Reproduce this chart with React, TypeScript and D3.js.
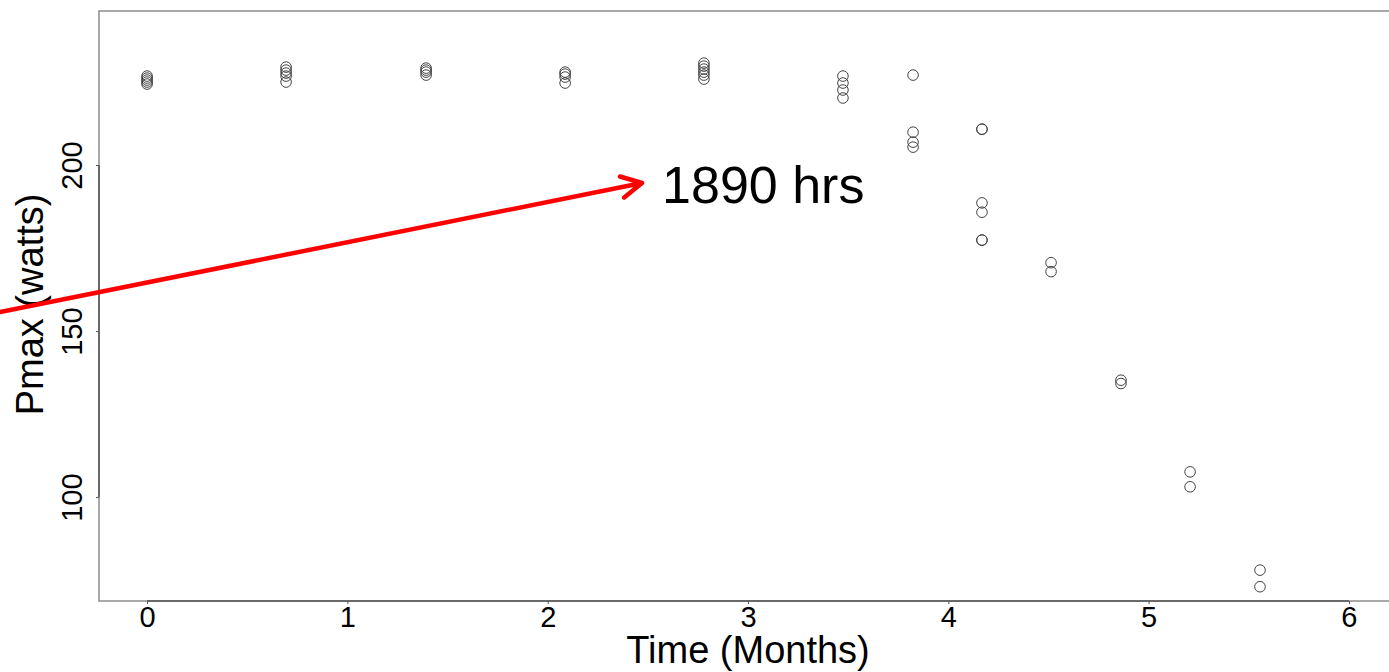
import React, { useRef, useEffect } from "react";
import { select, scaleLinear, axisBottom, axisLeft } from "d3";

const times = [0, 0.694, 1.393, 2.087, 2.78, 3.474, 3.824, 4.168, 4.513, 4.862, 5.207, 5.556];
const pmax = [
  [226.8, 226.2, 225.6, 225.0, 224.4],
  [229.5, 228.6, 227.7, 226.8, 225.0],
  [229.2, 228.6, 228.0, 227.1],
  [228.0, 227.4, 226.5, 224.7],
  [230.7, 229.8, 228.9, 228.0, 227.1, 225.9],
  [226.8, 224.7, 222.6, 220.2],
  [227.1, 209.9, 206.9, 205.4],
  [210.8, 210.8, 188.6, 185.8, 177.4, 177.4],
  [170.6, 167.9],
  [135.2, 134.2],
  [107.6, 103.1],
  [78.0, 73.0],
];
const xTicks = [0, 1, 2, 3, 4, 5, 6];
const yTicks = [100, 150, 200];

// annotation: arrow tail/tip and label, in data units
const arrowFrom = [-0.734, 155.7];
const arrowTo = [2.471, 194.6];
const noteAt = [2.571, 188.6];
const noteText = "1890 hrs";

const W = 1389, H = 672;
const font = "Liberation Sans, Arial, Helvetica, sans-serif";

function App() {
  const svgRef = useRef(null);

  useEffect(() => {
    const svg = select(svgRef.current);
    svg.selectAll("*").remove();

    const x = scaleLinear().domain([-0.24, 6.24]).range([99, 1397]);
    const y = scaleLinear().domain([68.7, 246.4]).range([601, 11]);

    // plot box
    svg.append("rect")
      .attr("x", x.range()[0]).attr("y", y.range()[1])
      .attr("width", x.range()[1] - x.range()[0])
      .attr("height", y.range()[0] - y.range()[1])
      .attr("fill", "none").attr("stroke", "#8c8c8c").attr("stroke-width", 1.5);

    const xa = svg.append("g")
      .attr("transform", `translate(0,${y.range()[0]})`)
      .call(axisBottom(x).tickValues(xTicks).tickFormat(d => String(d)).tickSizeInner(3).tickSizeOuter(0).tickPadding(2));
    xa.select(".domain").attr("d", `M${x(0)},0H${x(6)}`).attr("stroke", "#555").attr("stroke-width", 1.5);
    xa.selectAll(".tick line").attr("stroke", "#555");
    xa.selectAll("text").attr("font-family", font).attr("font-size", 29).attr("fill", "#000");

    const ya = svg.append("g")
      .attr("transform", `translate(${x.range()[0]},0)`)
      .call(axisLeft(y).tickValues(yTicks).tickFormat(d => String(d)).tickSizeInner(3).tickSizeOuter(0).tickPadding(2));
    ya.select(".domain").attr("d", `M0,${y(100)}V${y(200)}`).attr("stroke", "#555").attr("stroke-width", 1.5);
    ya.selectAll(".tick line").attr("stroke", "#555");
    ya.selectAll("text")
      .attr("font-family", font).attr("font-size", 29).attr("fill", "#000")
      .attr("text-anchor", "middle").attr("dy", 0).attr("x", 0)
      .attr("transform", "translate(-17,0) rotate(-90)");

    // points
    const pts = times.flatMap((t, i) => pmax[i].map(v => ({ t, v })));
    svg.append("g").selectAll("circle")
      .data(pts)
      .join("circle")
      .attr("cx", d => x(d.t))
      .attr("cy", d => y(d.v))
      .attr("r", 5.3)
      .attr("fill", "none")
      .attr("stroke", "#444")
      .attr("stroke-width", 1);

    // axis titles
    svg.append("text")
      .attr("x", (x(0) + x(6)) / 2).attr("y", 663)
      .attr("text-anchor", "middle")
      .attr("font-family", font).attr("font-size", 38)
      .text("Time (Months)");
    svg.append("text")
      .attr("transform", `translate(43,${y(158)}) rotate(-90)`)
      .attr("text-anchor", "middle")
      .attr("font-family", font).attr("font-size", 38)
      .text("Pmax (watts)");

    // red arrow
    const x0 = x(arrowFrom[0]), y0 = y(arrowFrom[1]);
    const x1 = x(arrowTo[0]), y1 = y(arrowTo[1]);
    const ang = Math.atan2(y1 - y0, x1 - x0);
    const len = 23, spread = Math.PI / 6.5;
    const head = [ang - spread, ang + spread].map(a => [x1 - len * Math.cos(a), y1 - len * Math.sin(a)]);
    svg.append("path")
      .attr("d", `M${x0},${y0}L${x1},${y1}M${head[0][0]},${head[0][1]}L${x1},${y1}L${head[1][0]},${head[1][1]}`)
      .attr("fill", "none").attr("stroke", "#ff0000").attr("stroke-width", 4.5)
      .attr("stroke-linecap", "round").attr("stroke-linejoin", "round");

    svg.append("text")
      .attr("x", x(noteAt[0])).attr("y", y(noteAt[1]))
      .attr("font-family", font).attr("font-size", 52)
      .text(noteText);
  }, []);

  return (
    <svg ref={svgRef} width={W} height={H}
      style={{ position: "absolute", left: 0, top: 0, background: "#fff" }} />
  );
}

export default App;
